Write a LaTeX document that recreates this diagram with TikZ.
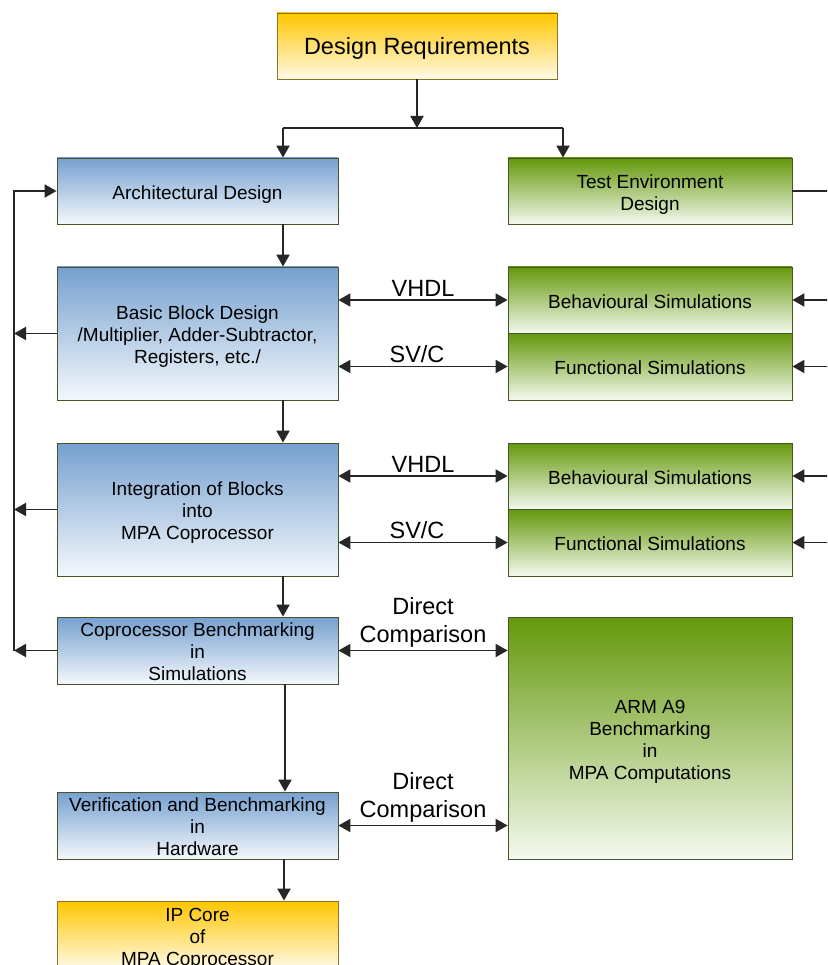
\documentclass[tikz,border=0pt]{standalone}
\usepackage{fontspec}
\setmainfont{Liberation Sans}
\usepackage{tikz}
\usetikzlibrary{arrows.meta,calc}
\definecolor{gold}{RGB}{255,198,0}
\definecolor{goldlight}{RGB}{255,250,232}
\definecolor{golddraw}{RGB}{140,115,40}
\definecolor{bleu}{RGB}{118,160,207}
\definecolor{bleulight}{RGB}{244,248,252}
\definecolor{vert}{RGB}{100,152,10}
\definecolor{vertlight}{RGB}{244,249,238}
\definecolor{bord}{RGB}{70,85,40}

\begin{document}
\begin{tikzpicture}[x=1pt,y=-1pt,>={Triangle[length=12pt,width=13pt]},
        box/.style={draw=bord,line width=0.8pt,align=center,inner sep=2pt,
            font=\fontsize{19}{22}\selectfont,minimum width=281pt,
            text height=21pt,text depth=4.5pt},
        two/.style={text height=43pt},
        three/.style={text height=65pt},
        tight/.style={text height=62.5pt,text depth=2pt,inner ysep=1pt},
        four/.style={text height=87pt},
        bluebox/.style={box,top color=bleu,bottom color=bleulight},
        greenbox/.style={box,top color=vert,bottom color=vertlight,minimum width=284pt},
        goldbox/.style={box,draw=golddraw,top color=gold,bottom color=goldlight},
        link/.style={line width=1.9pt,draw=black!85},
        lab/.style={font=\fontsize{23.5}{28}\selectfont,align=center,inner sep=2.5pt}]
            \useasboundingbox (0,0) rectangle (827,965);
            \clip (0,0) rectangle (827,965);

            \node[goldbox,minimum width=280pt,minimum height=66pt,font=\fontsize{23.5}{28}\selectfont,
                text height=23.5pt,text depth=5.5pt] (req) at (417,46) {Design Requirements};

            \node[bluebox,minimum height=66pt] (arch) at (197.5,191) {Architectural Design};
            \node[greenbox,two,minimum height=66pt] (test) at (650,191) {Test Environment\\Design};

            \node[bluebox,three,minimum height=133pt] (basic) at (197.5,333.5) {Basic Block Design\\/Multiplier, Adder-Subtractor,\\Registers, etc./};
            \node[greenbox,minimum height=66pt] (behavA) at (650,300) {Behavioural Simulations};
            \node[greenbox,minimum height=67pt] (funcA) at (650,366.5) {Functional Simulations};

            \node[bluebox,three,minimum height=133pt] (integ) at (197.5,509.5) {Integration of Blocks\\into\\MPA Coprocessor};
            \node[greenbox,minimum height=66pt] (behavB) at (650,476) {Behavioural Simulations};
            \node[greenbox,minimum height=67pt] (funcB) at (650,542.5) {Functional Simulations};

            \node[bluebox,tight,minimum height=67pt] (copro) at (197.5,650.5) {Coprocessor Benchmarking\\in\\Simulations};
            \node[greenbox,four,minimum height=242pt] (arm) at (650,738) {ARM A9\\Benchmarking\\in\\MPA Computations};

            \node[bluebox,tight,minimum height=67pt] (verif) at (197.5,825.5) {Verification and Benchmarking\\in\\Hardware};
            \node[goldbox,tight,minimum height=68pt] (ip) at (197.5,935) {IP Core\\of\\MPA Coprocessor};

            \coordinate (split) at (417,128);
            \coordinate (splitL) at (283,128);
            \coordinate (splitR) at (563,128);
            \coordinate (fb) at (14,191);
            \coordinate (edge) at (835,0);

            \draw[link,->] (req.south) -- (split);
            \draw[link] (splitL) -- (splitR);
            \draw[link,->] (splitL) -- (splitL |- arch.north);
            \draw[link,->] (splitR) -- (splitR |- test.north);

            \draw[link,->] (arch.south -| splitL) -- (basic.north -| splitL);
            \draw[link,->] (basic.south -| splitL) -- (integ.north -| splitL);
            \draw[link,->] (integ.south -| splitL) -- (copro.north -| splitL);
            \draw[link,->] ($(copro.south -| splitL)+(2,0)$) -- ($(verif.north -| splitL)+(2,0)$);
            \draw[link,->] ($(verif.south -| splitL)+(1,0)$) -- ($(ip.north -| splitL)+(1,0)$);

            \draw[link,->] (fb |- copro.west) -- (fb) -- (arch.west);
            \draw[link,->] (basic.west) -- (basic.west -| fb);
            \draw[link,->] (integ.west) -- (integ.west -| fb);
            \draw[link,->] (copro.west) -- (copro.west -| fb);

            \draw[link,<->] (basic.east |- behavA.west) -- node[lab,above] {VHDL} (behavA.west);
            \draw[link,<->] (basic.east |- funcA.west) -- node[lab,above,xshift=-6pt] {SV/C} (funcA.west);
            \draw[link,<->] (integ.east |- behavB.west) -- node[lab,above] {VHDL} (behavB.west);
            \draw[link,<->] (integ.east |- funcB.west) -- node[lab,above,xshift=-6pt] {SV/C} (funcB.west);
            \draw[link,<->] (copro.east) -- node[lab,above] {Direct\\Comparison} (arm.west |- copro.east);
            \draw[link,<->] (verif.east) -- node[lab,above] {Direct\\Comparison} (arm.west |- verif.east);

            \draw[link] (test.east) -- (test.east -| edge);
            \draw[link,->] (behavA.east -| edge) -- (behavA.east);
            \draw[link,->] (funcA.east -| edge) -- (funcA.east);
            \draw[link,->] (behavB.east -| edge) -- (behavB.east);
            \draw[link,->] (funcB.east -| edge) -- (funcB.east);
        \end{tikzpicture}
\end{document}
